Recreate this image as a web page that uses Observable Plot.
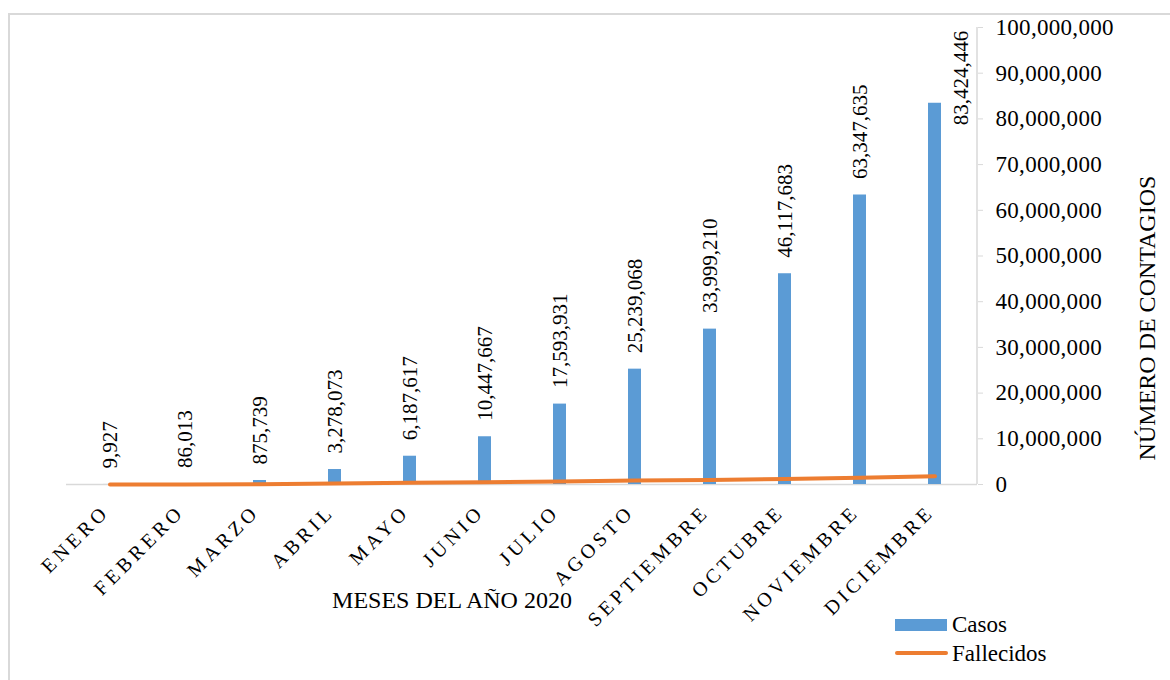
<!DOCTYPE html>
<html>
<head>
<meta charset="utf-8">
<script src="https://cdn.jsdelivr.net/npm/d3@7"></script>
<script src="https://cdn.jsdelivr.net/npm/@observablehq/plot@0.6"></script>
<style>
  html, body { margin: 0; padding: 0; background: #fff; width: 1170px; height: 680px; overflow: hidden; }
  #wrap { position: relative; width: 1170px; height: 680px; font-family: "Liberation Serif", "Times New Roman", Tinos, "DejaVu Serif", serif; }
  #border { position: absolute; left: 8px; top: 13px; width: 1200px; height: 700px; border-top: 2px solid #d9d9d9; border-left: 2px solid #d9d9d9; }
  #chart { position: absolute; left: 0; top: 0; }
  .leg { position: absolute; font-size: 23px; color: #000; line-height: 1; }
</style>
</head>
<body>
<div id="wrap">
  <div id="border"></div>
  <div id="chart"></div>
  <div style="position:absolute;left:895px;top:619px;width:52px;height:12px;background:#5b9bd5"></div>
  <div class="leg" style="left:952px;top:613px">Casos</div>
  <div style="position:absolute;left:895px;top:651px;width:53px;height:4px;border-radius:2px;background:#ed7d31"></div>
  <div class="leg" style="left:952px;top:642px">Fallecidos</div>
</div>
<script>
const meses = ["ENERO","FEBRERO","MARZO","ABRIL","MAYO","JUNIO","JULIO","AGOSTO","SEPTIEMBRE","OCTUBRE","NOVIEMBRE","DICIEMBRE"];
const casos = [9927, 86013, 875739, 3278073, 6187617, 10447667, 17593931, 25239068, 33999210, 46117683, 63347635, 83424446];
const fallecidos = [213, 2900, 42000, 230000, 373000, 508000, 680000, 850000, 1010000, 1190000, 1460000, 1820000];
const yTicks = [0, 10000000, 20000000, 30000000, 40000000, 50000000, 60000000, 70000000, 80000000, 90000000, 100000000];

const data = meses.map((m, i) => ({mes: m, casos: casos[i], fallecidos: fallecidos[i]}));
const fmt = d3.format(",");
const font = '"Liberation Serif", "Times New Roman", Tinos, "DejaVu Serif", serif';

const rightAxisLine = (index, scales, values, dimensions) => {
  const xr = dimensions.width - dimensions.marginRight;
  return d3.create("svg:line")
    .attr("x1", xr).attr("x2", xr)
    .attr("y1", scales.y(100000000)).attr("y2", scales.y(0))
    .attr("stroke", "#d9d9d9").attr("stroke-width", 1.5)
    .node();
};

const chart = Plot.plot({
  width: 1170,
  height: 680,
  marginLeft: 66,
  marginRight: 193,
  marginTop: 27,
  marginBottom: 196,
  style: {fontFamily: font, background: "transparent", color: "#000", overflow: "visible"},
  x: {domain: meses, padding: 0, axis: null},
  y: {domain: [0, 100000000], axis: null},
  marks: [
    rightAxisLine,
    Plot.ruleY([0], {stroke: "#d9d9d9", strokeWidth: 1.5}),
    Plot.barY(data, {x: "mes", y: "casos", fill: "#5b9bd5", insetLeft: 31, insetRight: 31}),
    Plot.line(data, {x: "mes", y: "fallecidos", stroke: "#ed7d31", strokeWidth: 4, strokeLinecap: "round"}),
    Plot.text(data.slice(0, 11), {x: "mes", y: "casos", text: d => fmt(d.casos), rotate: -90, textAnchor: "start", dy: -16, fontSize: 21, fill: "#000", fontFamily: font}),
    Plot.text(data.slice(11), {x: "mes", y: "casos", text: d => fmt(d.casos), rotate: -90, textAnchor: "start", dx: 26, dy: 22, fontSize: 21, fill: "#000", fontFamily: font}),
    Plot.text(data, {x: "mes", frameAnchor: "bottom", text: "mes", rotate: -45, textAnchor: "end", lineAnchor: "middle", dx: -4, dy: 24, fontSize: 20, fill: "#000", fontFamily: font}),
    Plot.axisY({anchor: "right", ticks: yTicks, tickFormat: fmt, tickSize: 5, tickPadding: 13, fontSize: 23, stroke: "#d9d9d9", fill: "#000", label: null, fontFamily: font}),
    Plot.text(["NÚMERO DE CONTAGIOS"], {frameAnchor: "right", text: d => d, rotate: -90, textAnchor: "middle", lineAnchor: "middle", dx: 170, dy: 62, fontSize: 24, fill: "#000", fontFamily: font}),
    Plot.text(["MESES DEL AÑO 2020"], {frameAnchor: "bottom", text: d => d, textAnchor: "middle", dx: -70, dy: 123, fontSize: 24, fill: "#000", fontFamily: font})
  ]
});

chart.querySelectorAll("text").forEach(t => {
  if (meses.includes(t.textContent)) t.style.letterSpacing = "4px";
});
chart.querySelectorAll("g[aria-label='y-axis tick label'] text").forEach(t => { t.style.letterSpacing = "0.3px"; });
document.getElementById("chart").appendChild(chart);
</script>
</body>
</html>
